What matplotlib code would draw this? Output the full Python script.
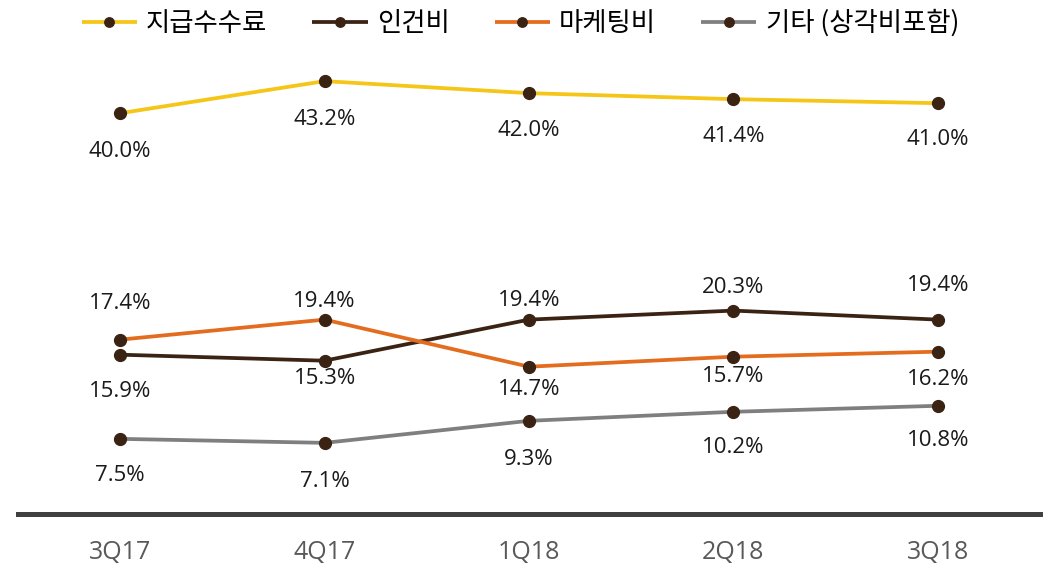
import matplotlib.pyplot as plt

plt.rcParams['font.family'] = ['Noto Sans CJK KR', 'DejaVu Sans']

# === Data ===
quarters = ["3Q17", "4Q17", "1Q18", "2Q18", "3Q18"]
fees = [40.0, 43.2, 42.0, 41.4, 41.0]
labor = [15.9, 15.3, 19.4, 20.3, 19.4]
marketing = [17.4, 19.4, 14.7, 15.7, 16.2]
other = [7.5, 7.1, 9.3, 10.2, 10.8]

series_names = ["지급수수료", "인건비", "마케팅비", "기타 (상각비포함)"]
colors = ["#F5C518", "#3B2314", "#E36C1E", "#7F7F7F"]

# label offsets in pixels (positive = above the point)
label_offsets = [
    [-38, -38, -37, -37, -36],
    [-37, -18, 19, 23, 34],
    [36, 18, -23, -20, -28],
    [-37, -39, -39, -36, -35],
]

marker_color = "#3B2314"

fig = plt.figure(figsize=(10.49, 5.74), dpi=100)
ax = fig.add_axes([18 / 1049, 60 / 574, 1022 / 1049, 501 / 574])

x = list(range(len(quarters)))
for name, vals, col, offs in zip(series_names, [fees, labor, marketing, other], colors, label_offsets):
    ax.plot(x, vals, color=col, lw=2.7, marker="o", markersize=8.5,
            markerfacecolor=marker_color, markeredgecolor=marker_color,
            label=name, solid_capstyle="butt")
    for xi, v, off in zip(x, vals, offs):
        ax.annotate(f"{v:.1f}%", (xi, v), xytext=(0, off * 0.72), textcoords="offset points",
                    ha="center", va="center", fontsize=16, color="#1a1a1a",
                    family=["Open Sans", "DejaVu Sans"])

ax.set_xlim(-0.5, 4.5)
ax.set_ylim(0, 50)
ax.set_yticks([])
ax.set_xticks(x)
ax.set_xticklabels(quarters, fontsize=18, color="#595959", family=["Open Sans", "DejaVu Sans"])
ax.tick_params(axis="x", length=0, pad=19)
for s in ["top", "right", "left"]:
    ax.spines[s].set_visible(False)
ax.spines["bottom"].set_color("#404040")
ax.spines["bottom"].set_linewidth(3.6)

leg = fig.legend(loc="upper center", bbox_to_anchor=(0.496, 1.025), ncol=4, frameon=False,
                 fontsize=19, handlelength=2.1, columnspacing=1.7, handletextpad=0.35,
                 markerscale=0.8)

fig.savefig("out.png", dpi=100)
